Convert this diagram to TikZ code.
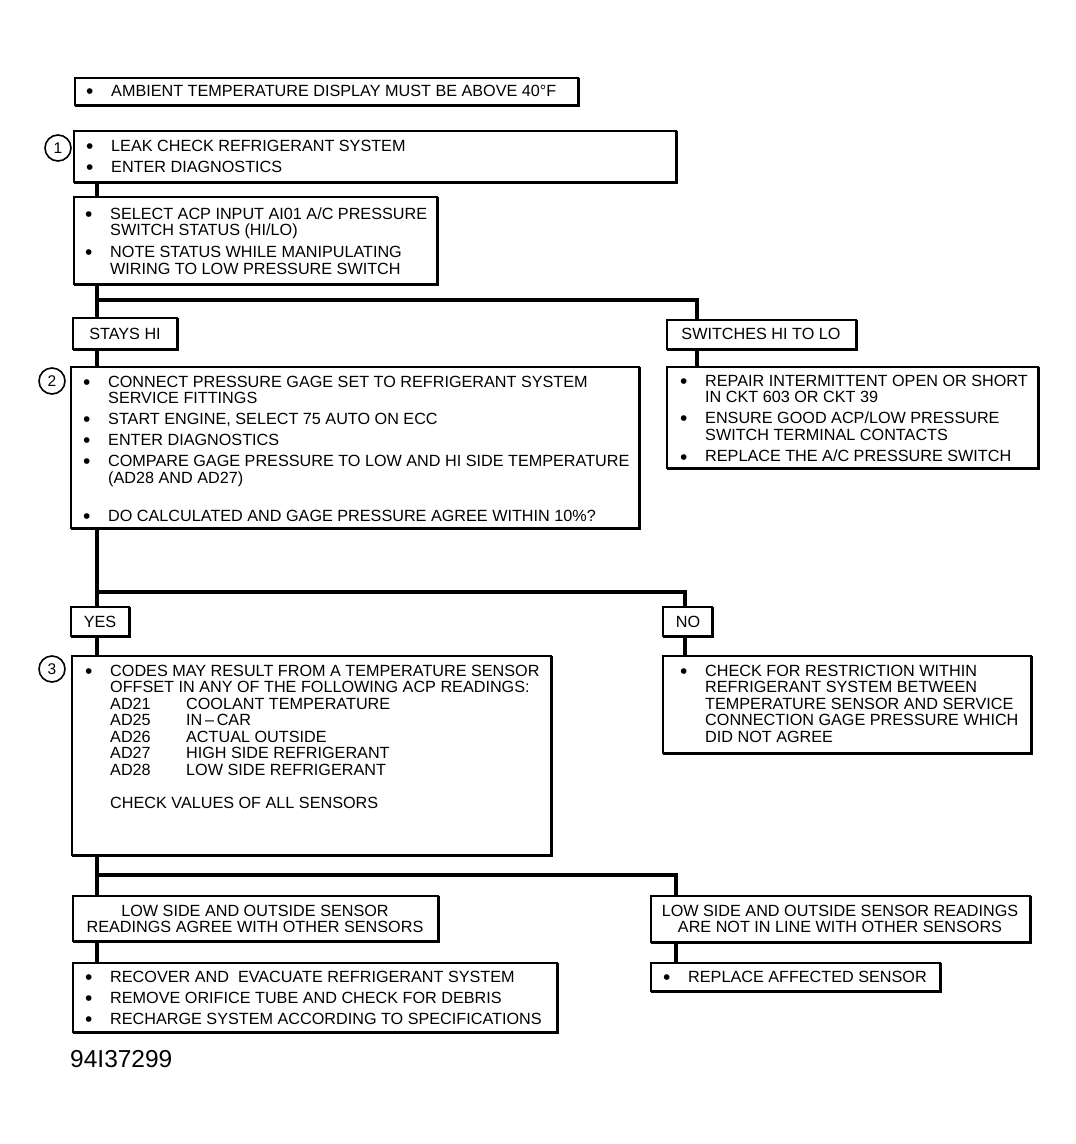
\documentclass[tikz,border=0pt]{standalone}
\usepackage{fontspec}
\setmainfont{Liberation Sans}
\usetikzlibrary{fit}
\newcommand\mf{\fontsize{16.2}{16.5}\selectfont}
\newcommand\bul{\makebox[24pt][l]{\hspace{-1pt}\raisebox{-2.2pt}[0pt][0pt]{\fontsize{21}{21}\selectfont •}}}
\newcommand\mybox[5]{%
  \node[box, fit={(#2,#3) (#4,#5)}] (#1) {};
  \draw[line width=3pt] (#1.north east) -- (#1.south east) -- (#1.south west);}
\begin{document}
\begin{tikzpicture}[x=1pt,y=-1pt,
  box/.style={draw, line width=1.6pt, inner sep=0pt, outer sep=0pt, rectangle},
  conn/.style={line width=4pt},
  txt/.style={anchor=base west, inner sep=0pt, font=\mf},
  ctxt/.style={anchor=base, inner sep=0pt, font=\mf},
  num/.style={draw, circle, line width=1.6pt, minimum size=26pt, inner sep=0pt, fill=white, font=\fontsize{15.5}{15.5}\selectfont}]
\useasboundingbox (0,0) rectangle (1076,1144);

% boxes
\mybox{bA}{75}{78}{578}{105}
\mybox{b1}{74}{131}{676}{182}
\mybox{bB}{74}{197}{437}{284}
\mybox{stay}{73}{318}{177}{349}
\mybox{sw}{667}{320}{856}{349}
\mybox{b2}{71}{367}{639}{528}
\mybox{swr}{667}{367}{1038}{468}
\mybox{yes}{71}{607}{129}{636}
\mybox{no}{663}{607}{712}{636}
\mybox{b3}{72}{656}{551}{855}
\mybox{nor}{663}{656}{1031}{753}
\mybox{agr}{73}{896}{438}{941}
\mybox{nag}{651}{896}{1030}{942}
\mybox{rec}{73}{963}{557}{1032}
\mybox{rep}{651}{963}{940}{991}

% numbered circles
\node[num] (n1) at (58,148) {1};
\node[num] (n2) at (52,381) {2};
\node[num] (n3) at (52,669) {3};

% connector junctions
\coordinate (c1) at (97,300);  \coordinate (c1r) at (697,300);
\coordinate (c2) at (97,592);  \coordinate (c2r) at (685,592);
\coordinate (c3) at (97,875);  \coordinate (c3r) at (676,875);

\draw[conn] (b1.south -| c1) -- (bB.north -| c1);
\draw[conn] (bB.south -| c1) -- (stay.north -| c1);
\draw[conn] (c1) -- (c1r) -- (sw.north -| c1r);
\draw[conn] (stay.south -| c1) -- (b2.north -| c1);
\draw[conn] (sw.south -| c1r) -- (swr.north -| c1r);
\draw[conn] (b2.south -| c2) -- (yes.north -| c2);
\draw[conn] (c2) -- (c2r) -- (no.north -| c2r);
\draw[conn] (yes.south -| c2) -- (b3.north -| c2);
\draw[conn] (no.south -| c2r) -- (nor.north -| c2r);
\draw[conn] (b3.south -| c3) -- (agr.north -| c3);
\draw[conn] (c3) -- (c3r) -- (nag.north -| c3r);
\draw[conn] (agr.south -| c3) -- (rec.north -| c3);
\draw[conn] (nag.south -| c3r) -- (rep.north -| c3r);

% texts
\node[txt] (tA) at (87,96) {\begin{tabular}[t]{@{}l@{}l@{}}\bul & AMBIENT TEMPERATURE DISPLAY MUST BE ABOVE 40°F\end{tabular}};
\node[txt] (t1) at (87,151) {\begin{tabular}[t]{@{}l@{}l@{}}\bul & LEAK CHECK REFRIGERANT SYSTEM\\[4.5pt]
\bul & ENTER DIAGNOSTICS\end{tabular}};
\node[txt] (tB) at (86,219) {\begin{tabular}[t]{@{}l@{}l@{}}\bul & SELECT ACP INPUT AI01 A/C PRESSURE\\
 & SWITCH STATUS (HI/LO)\\[5.5pt]
\bul & NOTE STATUS WHILE MANIPULATING\\
 & WIRING TO LOW PRESSURE SWITCH\end{tabular}};
\node[ctxt] (tstay) at (125,339) {STAYS HI};
\node[ctxt] (tsw) at (761,339) {SWITCHES HI TO LO};
\node[txt] (t2) at (84,387) {\begin{tabular}[t]{@{}l@{}l@{}}\bul & CONNECT PRESSURE GAGE SET TO REFRIGERANT SYSTEM\\
 & SERVICE FITTINGS\\[4.5pt]
\bul & START ENGINE, SELECT 75 AUTO ON ECC\\[4.5pt]
\bul & ENTER DIAGNOSTICS\\[4.5pt]
\bul & COMPARE GAGE PRESSURE TO LOW AND HI SIDE TEMPERATURE\\
 & (AD28 AND AD27)\\[21.5pt]
\bul & DO CALCULATED AND GAGE PRESSURE AGREE WITHIN 10\%?\end{tabular}};
\node[txt] (tswr) at (681,386) {\begin{tabular}[t]{@{}l@{}l@{}}\bul & REPAIR INTERMITTENT OPEN OR SHORT\\
 & IN CKT 603 OR CKT 39\\[4.5pt]
\bul & ENSURE GOOD ACP/LOW PRESSURE\\
 & SWITCH TERMINAL CONTACTS\\[5pt]
\bul & REPLACE THE A/C PRESSURE SWITCH\end{tabular}};
\node[ctxt] (tyes) at (100,627) {YES};
\node[ctxt] (tno) at (688,627) {NO};
\node[txt] (t3) at (86,676) {\begin{tabular}[t]{@{}l@{}l@{}}\bul & CODES MAY RESULT FROM A TEMPERATURE SENSOR\\
 & OFFSET IN ANY OF THE FOLLOWING ACP READINGS:\\
 & \makebox[76pt][l]{AD21}COOLANT TEMPERATURE\\
 & \makebox[76pt][l]{AD25}IN\,–\,CAR\\
 & \makebox[76pt][l]{AD26}ACTUAL OUTSIDE\\
 & \makebox[76pt][l]{AD27}HIGH SIDE REFRIGERANT\\
 & \makebox[76pt][l]{AD28}LOW SIDE REFRIGERANT\\[16.5pt]
 & CHECK VALUES OF ALL SENSORS\end{tabular}};
\node[txt] (tnor) at (681,676) {\begin{tabular}[t]{@{}l@{}l@{}}\bul & CHECK FOR RESTRICTION WITHIN\\
 & REFRIGERANT SYSTEM BETWEEN\\
 & TEMPERATURE SENSOR AND SERVICE\\
 & CONNECTION GAGE PRESSURE WHICH\\
 & DID NOT AGREE\end{tabular}};
\node[ctxt] (tagr) at (255,916) {\begin{tabular}[t]{@{}c@{}}LOW SIDE AND OUTSIDE SENSOR\\ READINGS AGREE WITH OTHER SENSORS\end{tabular}};
\node[ctxt] (tnag) at (840,916) {\begin{tabular}[t]{@{}c@{}}LOW SIDE AND OUTSIDE SENSOR READINGS\\ ARE NOT IN LINE WITH OTHER SENSORS\end{tabular}};
\node[txt] (trec) at (86,982) {\begin{tabular}[t]{@{}l@{}l@{}}\bul & RECOVER AND\ \ EVACUATE REFRIGERANT SYSTEM\\[4.5pt]
\bul & REMOVE ORIFICE TUBE AND CHECK FOR DEBRIS\\[4.5pt]
\bul & RECHARGE SYSTEM ACCORDING TO SPECIFICATIONS\end{tabular}};
\node[txt] (trep) at (664,982) {\begin{tabular}[t]{@{}l@{}l@{}}\bul & REPLACE AFFECTED SENSOR\end{tabular}};
\node[anchor=base west, inner sep=0pt, font=\fontsize{24.5}{24.5}\selectfont] (fid) at (70,1067) {94I37299};
\end{tikzpicture}
\end{document}
